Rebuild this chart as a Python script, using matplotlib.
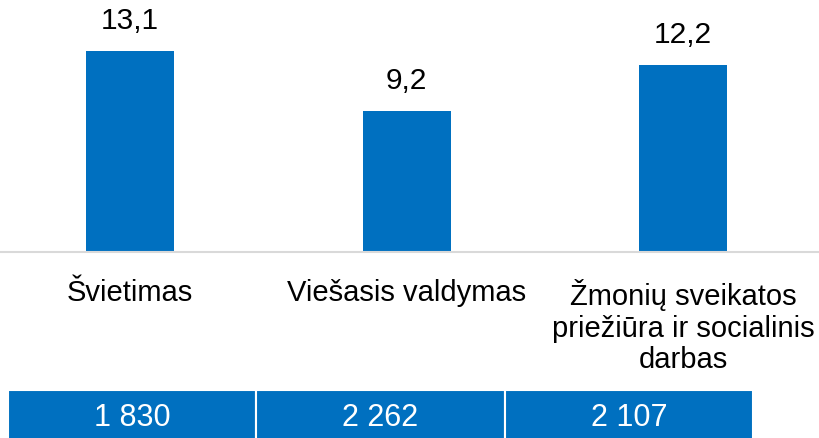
import matplotlib.pyplot as plt
import numpy as np

plt.rcParams['font.family'] = ['Liberation Sans', 'DejaVu Sans']

BLUE = '#0070C0'

categories = ['Švietimas', 'Viešasis valdymas',
              'Žmonių sveikatos\npriežiūra ir socialinis\ndarbas']
values = [13.1, 9.2, 12.2]
value_labels = ['13,1', '9,2', '12,2']
table_labels = ['1 830', '2 262', '2 107']

fig = plt.figure(figsize=(8.2, 4.39), dpi=100)

# main bar chart
ax = fig.add_axes([0, 186 / 439, 1, 253 / 439])
x = np.arange(len(categories))
bars = ax.bar(x, values, width=0.318, color=BLUE)
for b, lab in zip(bars, value_labels):
    ax.annotate(lab, (b.get_x() + b.get_width() / 2, b.get_height()),
                xytext=(0, 12), textcoords='offset points',
                ha='center', va='bottom', fontsize=21.5, color='#000000')

ax.set_xlim(-0.47, 2.495)
ax.set_ylim(0, 16.5)
ax.set_xticks(x)
ax.set_xticklabels(categories, fontsize=21, linespacing=1.15)
ax.tick_params(axis='x', length=0, pad=19)
ax.set_yticks([])
for s in ['top', 'left', 'right']:
    ax.spines[s].set_visible(False)
ax.spines['bottom'].set_color('#D9D9D9')
ax.spines['bottom'].set_linewidth(1.5)

# table row under the chart
tax = fig.add_axes([8 / 820, -2 / 439, 745 / 820, 50 / 439])
tx = np.arange(len(table_labels))
tax.bar(tx, [1] * len(tx), width=1, align='edge', color=BLUE,
        edgecolor='white', linewidth=1.5)
for i, lab in enumerate(table_labels):
    tax.text(i + 0.5, 0.45, lab, ha='center', va='center',
             fontsize=22, color='white')
tax.set_xlim(0, 3)
tax.set_ylim(0, 1)
tax.axis('off')

fig.savefig('out.png', dpi=100)
